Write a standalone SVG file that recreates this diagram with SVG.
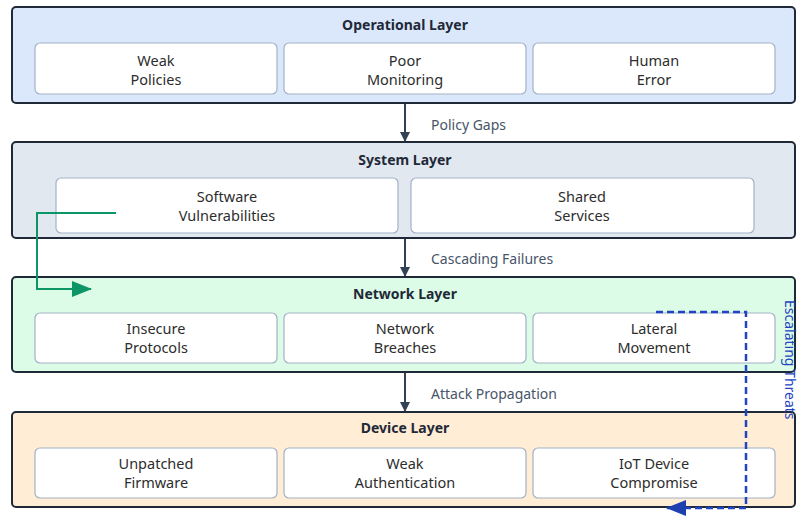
<svg xmlns="http://www.w3.org/2000/svg" width="800" height="518" viewBox="0 0 800 518">
<defs>
<style>
.layer{stroke:#1f2937;stroke-width:2}
.item{fill:#ffffff;stroke:#a3b1c6;stroke-width:1.2}
.title{font-family:"Noto Sans","Open Sans",sans-serif;font-size:14px;font-weight:bold;fill:#1f2937;text-anchor:middle}
.txt{font-family:"Noto Sans","Open Sans",sans-serif;font-size:14.5px;fill:#2d2d2d;text-anchor:middle}
.lbl{font-family:"Noto Sans","Open Sans",sans-serif;font-size:14px;fill:#475569}
.flow{stroke:#334155;stroke-width:2;fill:none}
</style>
<marker id="ah" markerWidth="10" markerHeight="10" refX="9" refY="5" orient="auto" markerUnits="userSpaceOnUse"><path d="M0,0 L10,5 L0,10 z" fill="#334155"/></marker>
<marker id="ag" markerWidth="20" markerHeight="16" refX="19" refY="8" orient="auto" markerUnits="userSpaceOnUse"><path d="M0,0 L20,8 L0,16 z" fill="#0d9665"/></marker>
<marker id="ab" markerWidth="20" markerHeight="16" refX="19" refY="8" orient="auto" markerUnits="userSpaceOnUse"><path d="M0,0 L20,8 L0,16 z" fill="#1e40af"/></marker>
</defs>
<rect width="800" height="518" fill="#ffffff"/>

<g id="operational">
<rect class="layer" x="12" y="7" width="783" height="96" rx="4" fill="#dbe8fc"/>
<text class="title" x="405" y="30">Operational Layer</text>
</g>
<g id="weak-policies"><rect class="item" x="35" y="43" width="242" height="51" rx="5"/><text class="txt" x="156" y="66">Weak</text><text class="txt" x="156" y="85">Policies</text></g>
<g id="poor-monitoring"><rect class="item" x="284" y="43" width="242" height="51" rx="5"/><text class="txt" x="405" y="66">Poor</text><text class="txt" x="405" y="85">Monitoring</text></g>
<g id="human-error"><rect class="item" x="533" y="43" width="242" height="51" rx="5"/><text class="txt" x="654" y="66">Human</text><text class="txt" x="654" y="85">Error</text></g>

<g id="system">
<rect class="layer" x="12" y="142" width="783" height="96" rx="4" fill="#e2e8f0"/>
<text class="title" x="405" y="165">System Layer</text>
</g>
<g id="software-vulnerabilities"><rect class="item" x="56" y="178" width="342" height="55" rx="5"/><text class="txt" x="227" y="202">Software</text><text class="txt" x="227" y="221">Vulnerabilities</text></g>
<g id="shared-services"><rect class="item" x="411" y="178" width="343" height="55" rx="5"/><text class="txt" x="582" y="202">Shared</text><text class="txt" x="582" y="221">Services</text></g>

<g id="network">
<rect class="layer" x="12" y="277" width="783" height="95" rx="4" fill="#dcfce7"/>
<text class="title" x="405" y="299">Network Layer</text>
</g>
<g id="insecure-protocols"><rect class="item" x="35" y="313" width="242" height="50" rx="5"/><text class="txt" x="156" y="334">Insecure</text><text class="txt" x="156" y="353">Protocols</text></g>
<g id="network-breaches"><rect class="item" x="284" y="313" width="242" height="50" rx="5"/><text class="txt" x="405" y="334">Network</text><text class="txt" x="405" y="353">Breaches</text></g>
<g id="lateral-movement"><rect class="item" x="533" y="313" width="242" height="50" rx="5"/><text class="txt" x="654" y="334">Lateral</text><text class="txt" x="654" y="353">Movement</text></g>

<g id="device">
<rect class="layer" x="12" y="412" width="783" height="95" rx="4" fill="#ffedd5"/>
<text class="title" x="405" y="433">Device Layer</text>
</g>
<g id="unpatched-firmware"><rect class="item" x="35" y="448" width="242" height="50" rx="5"/><text class="txt" x="156" y="469">Unpatched</text><text class="txt" x="156" y="488">Firmware</text></g>
<g id="weak-authentication"><rect class="item" x="284" y="448" width="242" height="50" rx="5"/><text class="txt" x="405" y="469">Weak</text><text class="txt" x="405" y="488">Authentication</text></g>
<g id="iot-device-compromise"><rect class="item" x="533" y="448" width="242" height="50" rx="5"/><text class="txt" x="654" y="469">IoT Device</text><text class="txt" x="654" y="488">Compromise</text></g>

<g id="connectors">
<line class="flow" x1="405" y1="104" x2="405" y2="141" marker-end="url(#ah)"/>
<text class="lbl" x="431" y="130">Policy Gaps</text>
<line class="flow" x1="405" y1="239" x2="405" y2="276" marker-end="url(#ah)"/>
<text class="lbl" x="431" y="264">Cascading Failures</text>
<line class="flow" x1="405" y1="373" x2="405" y2="411" marker-end="url(#ah)"/>
<text class="lbl" x="431" y="399">Attack Propagation</text>
<path d="M116,213 H37 V289 H91" fill="none" stroke="#0d9665" stroke-width="2" marker-end="url(#ag)"/>
<path d="M656,312 H746 V508 H667" fill="none" stroke="#2244c0" stroke-width="2.5" stroke-dasharray="7,4" marker-end="url(#ab)"/>
<text x="785" y="300" transform="rotate(90 785 300)" font-family="Noto Sans, Open Sans, sans-serif" font-size="14" fill="#2244c0">Escalating Threats</text>
</g>
</svg>
